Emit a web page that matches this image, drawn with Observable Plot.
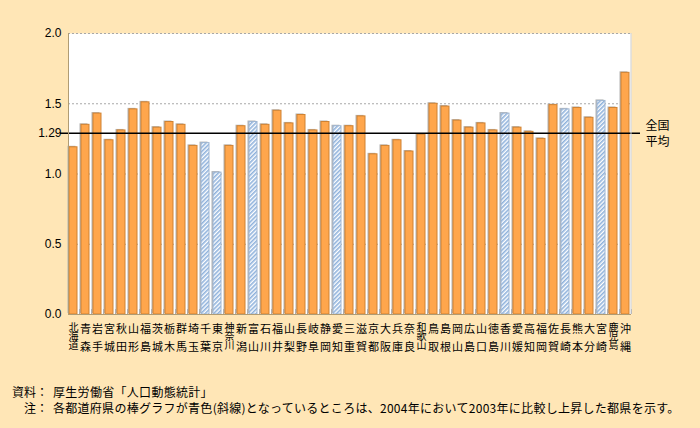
<!DOCTYPE html>
<html>
<head>
<meta charset="utf-8">
<script src="https://cdn.jsdelivr.net/npm/d3@7"></script>
<script src="https://cdn.jsdelivr.net/npm/@observablehq/plot@0.6"></script>
<style>
  html, body { margin: 0; padding: 0; background: #FFE6B6; }
  #wrap { position: relative; width: 700px; height: 428px; overflow: hidden; }
  .note { position: absolute; font-family: "Noto Sans CJK JP", sans-serif; font-size: 12px; line-height: 14px; color: #000; white-space: nowrap; }
</style>
</head>
<body>
<div id="wrap">
  <div id="chart"></div>
  <div class="note" style="left:0;width:48px;text-align:right;top:385px;">資料：</div>
  <div class="note" style="left:53px;top:385px;letter-spacing:0.3px;">厚生労働省「人口動態統計」</div>
  <div class="note" style="left:0;width:48px;text-align:right;top:401px;">注：</div>
  <div class="note" id="note2" style="left:53px;top:401px;letter-spacing:0.28px;">各都道府県の棒グラフが青色(斜線)となっているところは、2004年において2003年に比較し上昇した都県を示す。</div>
</div>
<script>
const prefectures = ["北海道","青森","岩手","宮城","秋田","山形","福島","茨城","栃木","群馬","埼玉","千葉","東京","神奈川","新潟","富山","石川","福井","山梨","長野","岐阜","静岡","愛知","三重","滋賀","京都","大阪","兵庫","奈良","和歌山","鳥取","島根","岡山","広島","山口","徳島","香川","愛媛","高知","福岡","佐賀","長崎","熊本","大分","宮崎","鹿児島","沖縄"];
const rates = [1.19,1.35,1.43,1.24,1.31,1.46,1.51,1.33,1.37,1.35,1.20,1.22,1.01,1.20,1.34,1.37,1.35,1.45,1.36,1.42,1.31,1.37,1.34,1.34,1.41,1.14,1.20,1.24,1.16,1.28,1.50,1.48,1.38,1.33,1.36,1.31,1.43,1.33,1.30,1.25,1.49,1.46,1.47,1.40,1.52,1.47,1.72];
const increased = ["千葉","東京","富山","愛知","香川","長崎","宮崎"];
const nationalAverage = 1.29;
const yTicks = [0, 0.5, 1.0, 1.5, 2.0];
const avgLabel = "全国\n平均";

const data = prefectures.map((name, i) => ({name, rate: rates[i], up: increased.includes(name)}));
const orange = data.filter(d => !d.up);
const blue = data.filter(d => d.up);
const threeChar = data.filter(d => d.name.length === 3);
const jp = "'Noto Sans CJK JP', sans-serif";

const chart = Plot.plot({
  width: 700,
  height: 372,
  marginLeft: 68,
  marginRight: 69,
  marginTop: 33,
  marginBottom: 58,
  style: {fontFamily: "'Liberation Sans', Arial, sans-serif", fontSize: "12px", background: "transparent", color: "#000"},
  x: {domain: prefectures, paddingInner: 0.3, paddingOuter: 0.05, axis: null},
  y: {domain: [0, 2], axis: null},
  marks: [
    Plot.frame({fill: "white", stroke: "none"}),
    Plot.ruleY(yTicks.slice(1), {stroke: "#a8a8a8", strokeDasharray: "2,2", strokeWidth: 1}),
    Plot.axisY({ticks: [...yTicks, nationalAverage], tickFormat: d => d === nationalAverage ? "1.29" : d.toFixed(1), tickSize: 0, tickPadding: 7, fontSize: 12, label: null}),
    // band boundary ticks
    Plot.ruleX(prefectures, {x: d => d, dx: 6, y1: 0, y2: 0.035, stroke: "#aaaaaa"}),
    // shadows
    Plot.barY(data, {x: "name", y: "rate", dx: -1.5, dy: -1, fill: "#b4b4b4"}),
    Plot.barY(orange, {x: "name", y: "rate", fill: "#FFA64C", stroke: "#CF8232", strokeWidth: 1}),
    Plot.barY(blue, {x: "name", y: "rate", fill: "url(#hatch)", stroke: "#9fb6d2", strokeWidth: 1}),
    Plot.ruleY([0], {stroke: "#b09c74"}),
    Plot.ruleY([nationalAverage], {stroke: "#000", strokeWidth: 1.5, insetLeft: -8, insetRight: -9}),
    Plot.text([nationalAverage], {y: d => d, text: () => avgLabel, frameAnchor: "right", textAnchor: "start", dx: 14, lineAnchor: "middle", lineHeight: 1.3, fontSize: 12, fontFamily: jp}),
    Plot.text(data.filter(d => d.name.length === 2), {x: "name", text: d => d.name.split("").join("\n"), frameAnchor: "bottom", lineAnchor: "top", dy: 6, lineHeight: 1.64, fontSize: 11, fontFamily: jp}),
    Plot.text(threeChar, {x: "name", text: "name", frameAnchor: "bottom", lineAnchor: "bottom", textAnchor: "start", dy: 8, fontSize: 10, fontFamily: jp})
  ]
});

// vertical writing for three-character names
d3.select(chart).selectAll("text")
  .filter(function() { return threeChar.some(d => d.name === this.textContent); })
  .attr("writing-mode", "vertical-rl")
  .style("writing-mode", "vertical-rl")
  .style("letter-spacing", "-1.3px")
  .attr("y", null).attr("dy", null);

d3.select(chart).insert("defs", ":first-child").html(`
  <pattern id="hatch" patternUnits="userSpaceOnUse" width="3" height="3" patternTransform="rotate(45)">
    <rect width="3" height="3" fill="#ffffff"/>
    <rect width="1.6" height="3" fill="#8fb2dc"/>
  </pattern>`);
// left and right borders of plot area
d3.select(chart).append("line").attr("x1", 68.5).attr("x2", 68.5).attr("y1", 33).attr("y2", 314).attr("stroke", "#b09c74");
d3.select(chart).append("line").attr("x1", 631).attr("x2", 631).attr("y1", 33).attr("y2", 314).attr("stroke", "#cccccc");
document.getElementById("chart").appendChild(chart);
</script>
</body>
</html>
